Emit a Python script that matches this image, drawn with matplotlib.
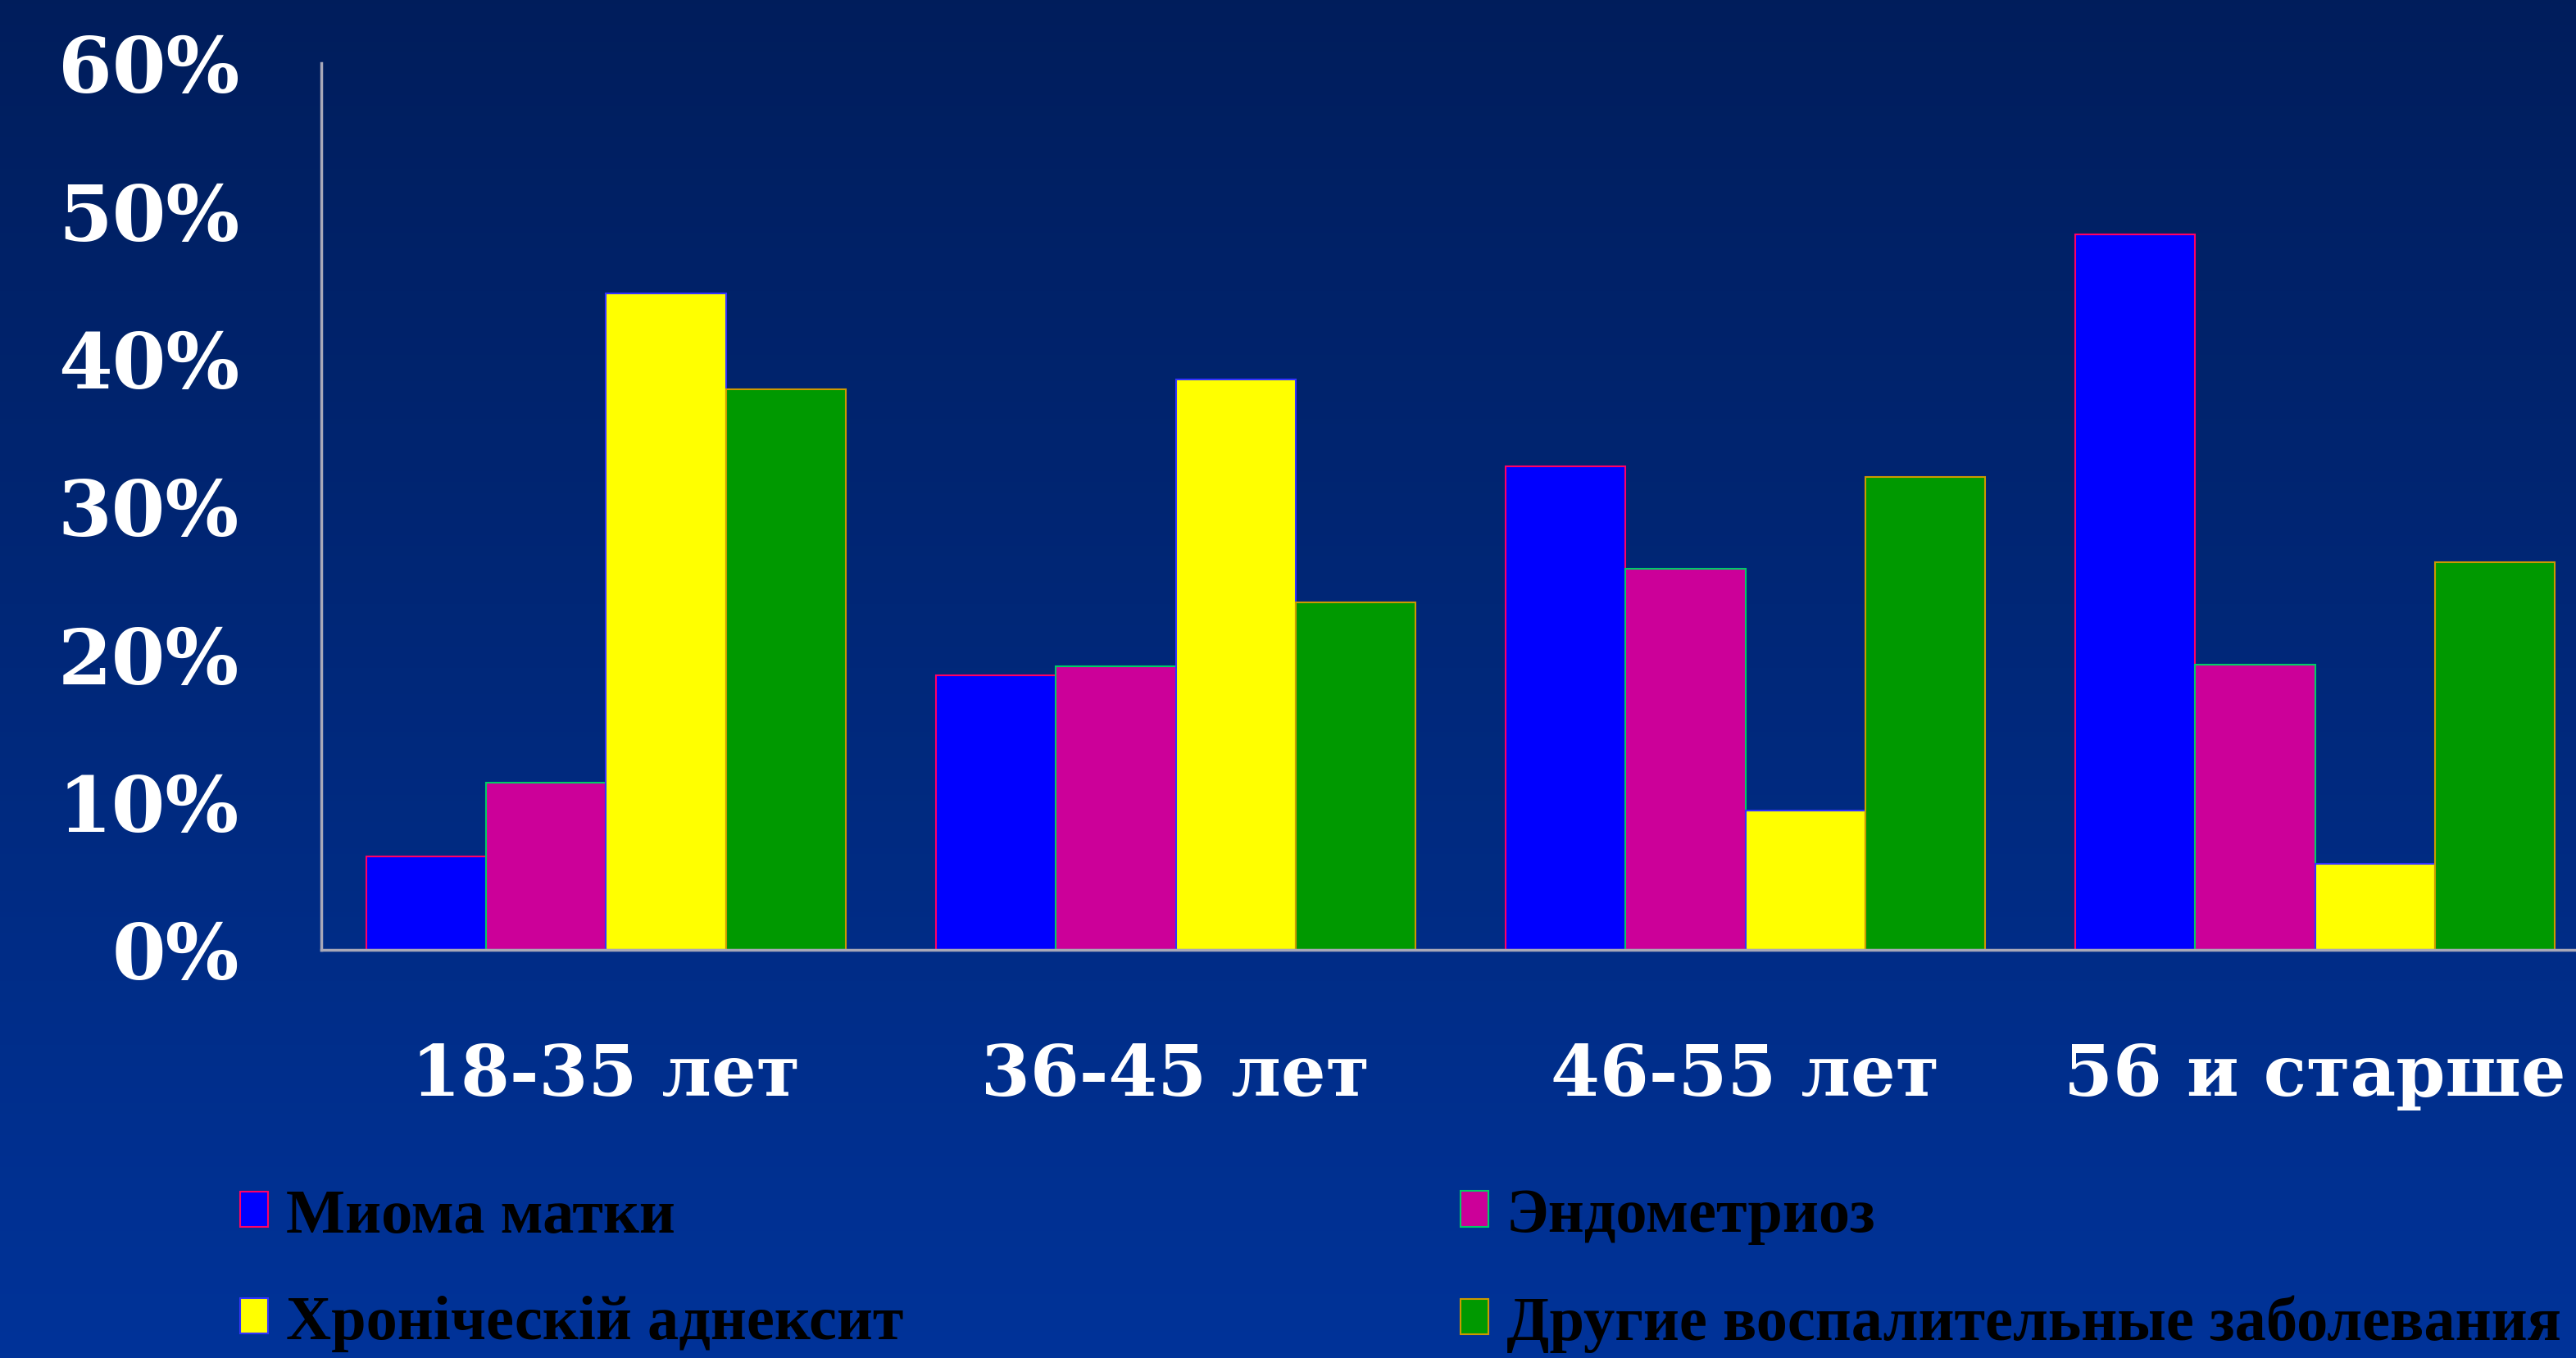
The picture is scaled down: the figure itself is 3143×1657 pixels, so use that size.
import matplotlib
matplotlib.use("Agg")
import matplotlib.pyplot as plt
import numpy as np
from matplotlib.patches import Patch

groups = ["18-35 лет", "36-45 лет", "46-55 лет", "56 и старше"]
series = ["Миома матки", "Эндометриоз", "Хронiческiй аднексит",
          "Другие воспалительные заболевания"]
mioma = [6.3, 18.6, 32.7, 48.4]
endometrioz = [11.3, 19.2, 25.8, 19.3]
adneksit = [44.4, 38.6, 9.4, 5.8]
drugie = [37.9, 23.5, 32.0, 26.2]
yticks = [0, 10, 20, 30, 40, 50, 60]

values = [mioma, endometrioz, adneksit, drugie]
fills = ["#0000FF", "#CC0099", "#FFFF00", "#009900"]
edges = ["#FF0066", "#00CC66", "#3333FF", "#CC9900"]

fig = plt.figure(figsize=(31.43, 16.58), dpi=100)

# background gradient
bg = fig.add_axes([0, 0, 1, 1], zorder=-1)
grad = np.linspace(0, 1, 256).reshape(-1, 1)
top = np.array([0.0, 0.115, 0.36])
bot = np.array([0.0, 0.2, 0.6])
img = top + (bot - top) * grad[:, :, None]
bg.imshow(img, aspect="auto", extent=[0, 1, 0, 1])
bg.axis("off")

ax = fig.add_axes([0.1247, 0.3004, 0.8753, 0.6526])
ax.set_facecolor("none")

bw = 0.2106
x = np.arange(len(groups))
for i, (vals, fc, ec) in enumerate(zip(values, fills, edges)):
    ax.bar(x + (i - 1.5) * bw, vals, bw, color=fc, edgecolor=ec, linewidth=1.5)

ax.set_xlim(-0.5, 3.458)
ax.set_ylim(0, 60)
ax.set_yticks(yticks)
ax.set_yticklabels([f"{t}%" for t in yticks], family="DejaVu Serif",
                   fontweight="bold", fontsize=68, color="white")
ax.set_xticks(x)
ax.set_xticklabels(groups, family="DejaVu Serif", fontweight="bold",
                   fontsize=62, color="white")
ax.tick_params(axis="y", length=0, pad=72)
ax.tick_params(axis="x", length=0, pad=80)
for s in ["top", "right"]:
    ax.spines[s].set_visible(False)
for s in ["left", "bottom"]:
    ax.spines[s].set_color("#A8A8B8")
    ax.spines[s].set_linewidth(2.5)

handles = [Patch(facecolor=fc, edgecolor=ec, linewidth=1.5) for fc, ec in zip(fills, edges)]
leg_kw = dict(loc="center left", frameon=False, borderaxespad=0, borderpad=0,
              handlelength=0.45, handleheight=0.5, handletextpad=0.28,
              labelspacing=0.8, labelcolor="black",
              prop={"family": "Liberation Serif", "weight": "bold", "size": 55})
fig.legend([handles[0], handles[2]], [series[0], series[2]],
           bbox_to_anchor=(0.0932, 0.065), **leg_kw)
fig.legend([handles[1], handles[3]], [series[1], series[3]],
           bbox_to_anchor=(0.567, 0.065), **leg_kw)

fig.savefig("out.png", dpi=100)
